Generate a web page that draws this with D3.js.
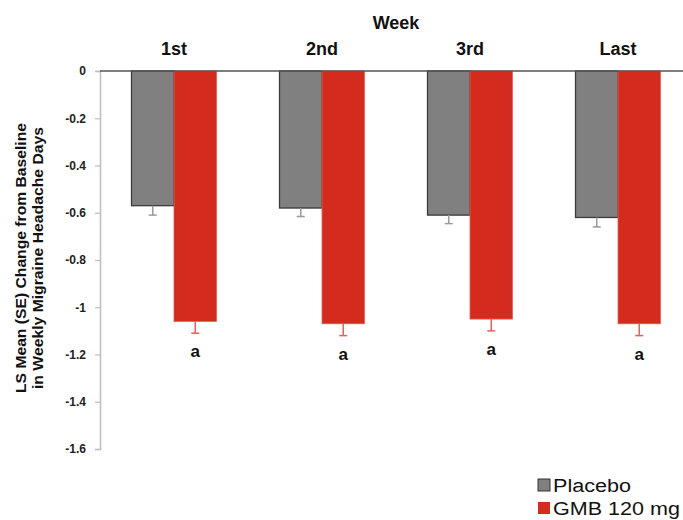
<!DOCTYPE html>
<html>
<head>
<meta charset="utf-8">
<script src="https://cdnjs.cloudflare.com/ajax/libs/d3/7.8.5/d3.min.js"></script>
<style>
body { margin: 0; background: #fff; }
svg { display: block; font-family: "Liberation Sans", Arial, sans-serif; }
</style>
</head>
<body>
<svg id="chart" width="683" height="520"></svg>
<script>
const categories = ["1st", "2nd", "3rd", "Last"];
const seriesNames = ["Placebo", "GMB 120 mg"];
const placeboValues = [-0.57, -0.58, -0.61, -0.62];
const placeboSE = [0.04, 0.036, 0.036, 0.04];
const gmbValues = [-1.06, -1.07, -1.05, -1.07];
const gmbSE = [0.05, 0.05, 0.05, 0.05];
const sigLabels = ["a", "a", "a", "a"];
const yTicks = [0, -0.2, -0.4, -0.6, -0.8, -1, -1.2, -1.4, -1.6];
const colors = ["#808080", "#d42b1f"];
const strokeColors = ["#3a3a3a", "#ee5a50"];
const errColors = ["#9a9a9a", "#e8605a"];

(function () {
const svg = d3.select("#chart");
const mLeft = 100, mRight = 692, mTop = 71, mBottom = 449;

const y = d3.scaleLinear().domain([0, -1.6]).range([mTop, mBottom]);
const x0 = d3.scaleBand().domain(categories).range([mLeft, mRight]).paddingInner(0.426).paddingOuter(0.213);
const x1 = d3.scaleBand().domain(seriesNames).range([0, x0.bandwidth()]).padding(0);

const data = categories.map((c, i) => ({
  cat: c,
  items: [
    { s: seriesNames[0], v: placeboValues[i], se: placeboSE[i], k: 0 },
    { s: seriesNames[1], v: gmbValues[i], se: gmbSE[i], k: 1 }
  ],
  sig: sigLabels[i]
}));

// y axis
const yAxis = d3.axisLeft(y).tickValues(yTicks).tickSize(5).tickPadding(9)
  .tickFormat(d => d === 0 ? "0" : String(+d.toFixed(1)));
const gy = svg.append("g").attr("transform", `translate(${mLeft},0)`).call(yAxis);
gy.select(".domain").attr("stroke", "#bdbdbd").attr("stroke-width", 1.5);
gy.selectAll(".tick line").attr("stroke", "#bdbdbd").attr("stroke-width", 1.2);
gy.selectAll(".tick text").attr("font-size", 12).attr("font-weight", "bold").attr("fill", "#222")
  .attr("font-family", "Liberation Sans, Arial, sans-serif");

// bars
const groups = svg.append("g").selectAll("g").data(data).join("g")
  .attr("transform", d => `translate(${x0(d.cat)},0)`);

groups.selectAll("rect").data(d => d.items).join("rect")
  .attr("x", d => x1(d.s))
  .attr("y", y(0))
  .attr("width", x1.bandwidth())
  .attr("height", d => y(d.v) - y(0))
  .attr("fill", d => colors[d.k])
  .attr("stroke", d => strokeColors[d.k])
  .attr("stroke-width", d => d.k === 0 ? 1.3 : 0.8);

// error bars (downward only)
const eb = groups.selectAll("g.err").data(d => d.items).join("g").attr("class", "err");
eb.append("line")
  .attr("x1", d => x1(d.s) + x1.bandwidth() / 2)
  .attr("x2", d => x1(d.s) + x1.bandwidth() / 2)
  .attr("y1", d => y(d.v))
  .attr("y2", d => y(d.v - d.se))
  .attr("stroke", d => errColors[d.k]).attr("stroke-width", 1.5);
eb.append("line")
  .attr("x1", d => x1(d.s) + x1.bandwidth() / 2 - 4)
  .attr("x2", d => x1(d.s) + x1.bandwidth() / 2 + 4)
  .attr("y1", d => y(d.v - d.se))
  .attr("y2", d => y(d.v - d.se))
  .attr("stroke", d => errColors[d.k]).attr("stroke-width", 1.5);

// significance labels
groups.append("text")
  .attr("x", d => x1(seriesNames[1]) + x1.bandwidth() / 2)
  .attr("y", d => y(d.items[1].v - d.items[1].se) + 24)
  .attr("text-anchor", "middle")
  .attr("font-size", 17).attr("font-weight", "bold").attr("fill", "#111")
  .text(d => d.sig);

// zero line
svg.append("line")
  .attr("x1", mLeft).attr("x2", 683)
  .attr("y1", y(0)).attr("y2", y(0))
  .attr("stroke", "#555").attr("stroke-width", 1.6);

// category labels on top
const xAxis = d3.axisTop(x0).tickSize(0).tickPadding(0);
const gx = svg.append("g").attr("transform", `translate(0,55)`).call(xAxis);
gx.select(".domain").remove();
gx.selectAll(".tick text").attr("font-size", 18).attr("font-weight", "bold").attr("fill", "#111")
  .attr("font-family", "Liberation Sans, Arial, sans-serif").attr("dy", 0);

svg.append("text").attr("x", 396).attr("y", 29).attr("text-anchor", "middle")
  .attr("font-size", 18).attr("font-weight", "bold").attr("fill", "#111").text("Week");

// y label
const yl = svg.append("text").attr("transform", "translate(0,258) rotate(-90)")
  .attr("text-anchor", "middle").attr("font-size", 15.5).attr("font-weight", "bold").attr("fill", "#111");
yl.append("tspan").attr("x", 0).attr("y", 26)
  .attr("textLength", 270).attr("lengthAdjust", "spacingAndGlyphs")
  .text("LS Mean (SE) Change from Baseline");
yl.append("tspan").attr("x", 0).attr("y", 43)
  .attr("textLength", 262).attr("lengthAdjust", "spacingAndGlyphs")
  .text("in Weekly Migraine Headache Days");

// legend
const legendLens = [78, 127];
const legend = svg.append("g").selectAll("g").data(seriesNames).join("g")
  .attr("transform", (d, i) => `translate(538,${479 + i * 23})`);
legend.append("rect").attr("width", 12).attr("height", 12).attr("y", 0)
  .attr("fill", (d, i) => colors[i]).attr("stroke", (d, i) => i === 0 ? "#333" : "none").attr("stroke-width", 1);
legend.append("text").attr("x", 15).attr("y", 13).attr("font-size", 18).attr("fill", "#111")
  .attr("textLength", (d, i) => legendLens[i]).attr("lengthAdjust", "spacingAndGlyphs")
  .text(d => d);
})();
</script>
</body>
</html>
